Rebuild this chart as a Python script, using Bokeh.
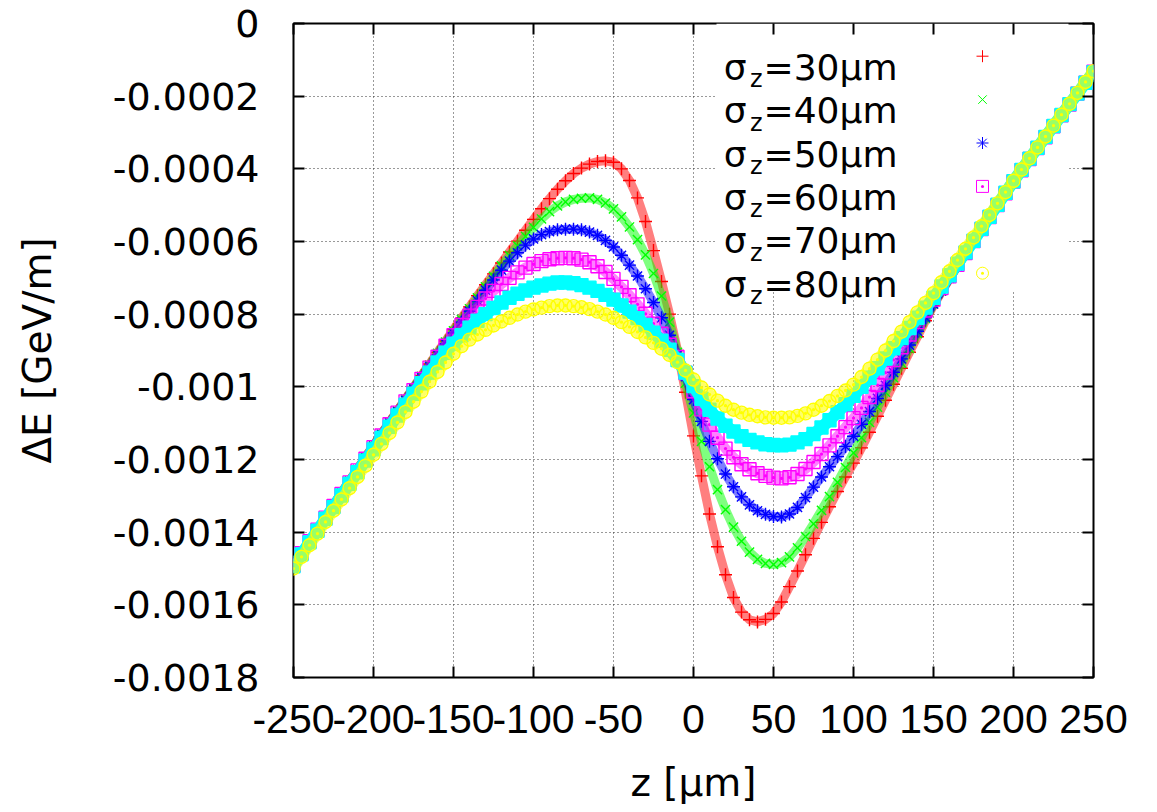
from bokeh.plotting import figure
from bokeh.models import Range1d, FixedTicker, LinearAxis, BoxAnnotation, CustomJSTickFormatter
from bokeh.core.properties import value
from bokeh.embed import file_html
from bokeh.resources import INLINE

# ---------------- data ----------------
z = [-250, -245, -240, -235, -230, -225, -220, -215, -210, -205,
     -200, -195, -190, -185, -180, -175, -170, -165, -160, -155,
     -150, -145, -140, -135, -130, -125, -120, -115, -110, -105,
     -100, -95, -90, -85, -80, -75, -70, -65, -60, -55,
     -50, -45, -40, -35, -30, -25, -20, -15, -10, -5,
     0, 5, 10, 15, 20, 25, 30, 35, 40, 45,
     50, 55, 60, 65, 70, 75, 80, 85, 90, 95,
     100, 105, 110, 115, 120, 125, 130, 135, 140, 145,
     150, 155, 160, 165, 170, 175, 180, 185, 190, 195,
     200, 205, 210, 215, 220, 225, 230, 235, 240, 245,
     250]

sigma30 = [-0.001490, -0.001456, -0.001423, -0.001390, -0.001357, -0.001324, -0.001291, -0.001258, -0.001226, -0.001193,
           -0.001161, -0.001129, -0.001097, -0.001065, -0.001033, -0.001001, -0.000969, -0.000937, -0.000905, -0.000874,
           -0.000842, -0.000811, -0.000780, -0.000749, -0.000719, -0.000689, -0.000659, -0.000629, -0.000599, -0.000569,
           -0.000539, -0.000510, -0.000482, -0.000456, -0.000433, -0.000413, -0.000398, -0.000387, -0.000380, -0.000378,
           -0.000382, -0.000400, -0.000432, -0.000480, -0.000545, -0.000625, -0.000710, -0.000800, -0.000900, -0.001015,
           -0.001135, -0.001245, -0.001350, -0.001440, -0.001517, -0.001580, -0.001620, -0.001641, -0.001647, -0.001640,
           -0.001624, -0.001592, -0.001550, -0.001507, -0.001462, -0.001417, -0.001373, -0.001330, -0.001288, -0.001248,
           -0.001210, -0.001168, -0.001125, -0.001081, -0.001037, -0.000993, -0.000949, -0.000905, -0.000862, -0.000818,
           -0.000776, -0.000739, -0.000703, -0.000668, -0.000634, -0.000600, -0.000567, -0.000534, -0.000501, -0.000468,
           -0.000436, -0.000405, -0.000374, -0.000344, -0.000314, -0.000284, -0.000254, -0.000224, -0.000194, -0.000164,
           -0.000134]

sigma40 = [-0.001490, -0.001457, -0.001424, -0.001391, -0.001358, -0.001325, -0.001292, -0.001259, -0.001227, -0.001194,
           -0.001162, -0.001130, -0.001098, -0.001066, -0.001034, -0.001003, -0.000971, -0.000940, -0.000908, -0.000877,
           -0.000846, -0.000815, -0.000785, -0.000755, -0.000725, -0.000696, -0.000667, -0.000639, -0.000612, -0.000586,
           -0.000561, -0.000538, -0.000518, -0.000502, -0.000491, -0.000484, -0.000481, -0.000480, -0.000484, -0.000494,
           -0.000510, -0.000532, -0.000560, -0.000595, -0.000637, -0.000688, -0.000750, -0.000822, -0.000905, -0.000990,
           -0.001072, -0.001150, -0.001220, -0.001283, -0.001338, -0.001386, -0.001425, -0.001455, -0.001475, -0.001486,
           -0.001489, -0.001484, -0.001468, -0.001443, -0.001412, -0.001377, -0.001340, -0.001302, -0.001263, -0.001222,
           -0.001182, -0.001140, -0.001098, -0.001056, -0.001015, -0.000975, -0.000935, -0.000894, -0.000853, -0.000812,
           -0.000772, -0.000736, -0.000701, -0.000667, -0.000633, -0.000599, -0.000566, -0.000533, -0.000500, -0.000467,
           -0.000435, -0.000404, -0.000373, -0.000343, -0.000313, -0.000283, -0.000253, -0.000223, -0.000193, -0.000163,
           -0.000133]

sigma50 = [-0.001490, -0.001457, -0.001424, -0.001391, -0.001359, -0.001326, -0.001294, -0.001261, -0.001229, -0.001196,
           -0.001164, -0.001132, -0.001100, -0.001069, -0.001037, -0.001006, -0.000975, -0.000944, -0.000913, -0.000882,
           -0.000852, -0.000822, -0.000792, -0.000763, -0.000734, -0.000706, -0.000679, -0.000654, -0.000631, -0.000610,
           -0.000593, -0.000581, -0.000573, -0.000568, -0.000566, -0.000566, -0.000568, -0.000574, -0.000583, -0.000597,
           -0.000615, -0.000638, -0.000665, -0.000695, -0.000730, -0.000768, -0.000810, -0.000858, -0.000912, -0.000972,
           -0.001035, -0.001095, -0.001150, -0.001198, -0.001240, -0.001275, -0.001303, -0.001325, -0.001341, -0.001351,
           -0.001357, -0.001358, -0.001350, -0.001332, -0.001305, -0.001276, -0.001248, -0.001220, -0.001192, -0.001164,
           -0.001136, -0.001103, -0.001068, -0.001032, -0.000996, -0.000960, -0.000923, -0.000885, -0.000847, -0.000809,
           -0.000772, -0.000736, -0.000701, -0.000667, -0.000633, -0.000599, -0.000566, -0.000533, -0.000500, -0.000467,
           -0.000435, -0.000404, -0.000373, -0.000343, -0.000313, -0.000283, -0.000253, -0.000223, -0.000193, -0.000163,
           -0.000133]

sigma60 = [-0.001491, -0.001458, -0.001425, -0.001393, -0.001360, -0.001328, -0.001295, -0.001263, -0.001230, -0.001198,
           -0.001166, -0.001134, -0.001103, -0.001071, -0.001040, -0.001009, -0.000978, -0.000947, -0.000917, -0.000887,
           -0.000858, -0.000830, -0.000804, -0.000780, -0.000757, -0.000736, -0.000717, -0.000700, -0.000685, -0.000672,
           -0.000662, -0.000654, -0.000649, -0.000646, -0.000645, -0.000646, -0.000650, -0.000657, -0.000668, -0.000684,
           -0.000703, -0.000725, -0.000748, -0.000773, -0.000799, -0.000826, -0.000854, -0.000884, -0.000918, -0.000962,
           -0.001012, -0.001062, -0.001104, -0.001140, -0.001170, -0.001194, -0.001213, -0.001227, -0.001238, -0.001245,
           -0.001250, -0.001252, -0.001249, -0.001240, -0.001226, -0.001207, -0.001185, -0.001161, -0.001136, -0.001111,
           -0.001086, -0.001058, -0.001028, -0.000995, -0.000961, -0.000926, -0.000891, -0.000856, -0.000822, -0.000790,
           -0.000760, -0.000728, -0.000696, -0.000664, -0.000632, -0.000599, -0.000566, -0.000533, -0.000500, -0.000467,
           -0.000435, -0.000404, -0.000373, -0.000343, -0.000313, -0.000283, -0.000253, -0.000223, -0.000193, -0.000163,
           -0.000133]

sigma70 = [-0.001494, -0.001461, -0.001428, -0.001396, -0.001363, -0.001331, -0.001299, -0.001267, -0.001235, -0.001203,
           -0.001172, -0.001141, -0.001110, -0.001079, -0.001049, -0.001019, -0.000990, -0.000961, -0.000933, -0.000906,
           -0.000881, -0.000858, -0.000837, -0.000818, -0.000800, -0.000783, -0.000768, -0.000755, -0.000744, -0.000735,
           -0.000727, -0.000721, -0.000716, -0.000713, -0.000713, -0.000715, -0.000720, -0.000727, -0.000736, -0.000747,
           -0.000760, -0.000776, -0.000793, -0.000811, -0.000830, -0.000851, -0.000873, -0.000898, -0.000926, -0.000961,
           -0.000998, -0.001033, -0.001063, -0.001087, -0.001107, -0.001123, -0.001136, -0.001146, -0.001153, -0.001158,
           -0.001160, -0.001161, -0.001159, -0.001153, -0.001144, -0.001130, -0.001112, -0.001092, -0.001070, -0.001048,
           -0.001025, -0.001000, -0.000975, -0.000949, -0.000922, -0.000894, -0.000866, -0.000838, -0.000810, -0.000782,
           -0.000755, -0.000724, -0.000693, -0.000661, -0.000630, -0.000598, -0.000565, -0.000532, -0.000499, -0.000466,
           -0.000434, -0.000403, -0.000372, -0.000342, -0.000312, -0.000282, -0.000252, -0.000222, -0.000193, -0.000163,
           -0.000134]

sigma80 = [-0.001500, -0.001468, -0.001436, -0.001404, -0.001372, -0.001341, -0.001310, -0.001279, -0.001248, -0.001217,
           -0.001187, -0.001157, -0.001127, -0.001098, -0.001069, -0.001041, -0.001013, -0.000986, -0.000959, -0.000933,
           -0.000909, -0.000888, -0.000870, -0.000856, -0.000843, -0.000831, -0.000820, -0.000810, -0.000801, -0.000793,
           -0.000787, -0.000782, -0.000778, -0.000776, -0.000776, -0.000778, -0.000781, -0.000786, -0.000793, -0.000801,
           -0.000810, -0.000822, -0.000835, -0.000849, -0.000864, -0.000879, -0.000895, -0.000912, -0.000932, -0.000955,
           -0.000980, -0.001002, -0.001021, -0.001038, -0.001052, -0.001063, -0.001071, -0.001077, -0.001081, -0.001084,
           -0.001085, -0.001085, -0.001084, -0.001080, -0.001073, -0.001063, -0.001052, -0.001039, -0.001025, -0.001010,
           -0.000994, -0.000973, -0.000950, -0.000925, -0.000900, -0.000874, -0.000848, -0.000822, -0.000795, -0.000769,
           -0.000742, -0.000712, -0.000682, -0.000651, -0.000620, -0.000589, -0.000558, -0.000527, -0.000495, -0.000464,
           -0.000433, -0.000402, -0.000371, -0.000341, -0.000311, -0.000281, -0.000251, -0.000221, -0.000191, -0.000161,
           -0.000131]

series_values = [sigma30, sigma40, sigma50, sigma60, sigma70, sigma80]
series_names = ["=30µm", "=40µm", "=50µm", "=60µm", "=70µm", "=80µm"]

x_ticks = [-250, -200, -150, -100, -50, 0, 50, 100, 150, 200, 250]
x_tick_labels = ["-250", "-200", "-150", "-100", "-50", "0", "50", "100", "150", "200", "250"]
y_ticks = [0, -0.0002, -0.0004, -0.0006, -0.0008, -0.001, -0.0012, -0.0014, -0.0016, -0.0018]
y_tick_labels = ["0", "-0.0002", "-0.0004", "-0.0006", "-0.0008", "-0.001",
                 "-0.0012", "-0.0014", "-0.0016", "-0.0018"]

# ---------------- styles ----------------
colors = ["#ff0000", "#00ff00", "#0000ff", "#ff00ff", "#00ffff", "#ffff00"]
markers = ["cross", "x", "asterisk", "square_dot", "square", "circle_dot"]
filled = [False, False, False, False, True, False]
band_alpha = [0.5, 0.5, 0.5, 0.5, 1.0, 0.6]
band_width = [9, 9, 9, 10, 12, 11]
legend_has_marker = [True, True, True, True, False, True]

W, H = 1157, 812
FL, FT, FR, FB = 293, 23, 1093, 677   # frame in figure pixels

p = figure(width=W, height=H, output_backend="svg", toolbar_location=None,
           x_range=Range1d(-250, 250), y_range=Range1d(-0.0018, 0),
           min_border_left=FL, min_border_top=FT,
           min_border_right=W - FR, min_border_bottom=H - FB,
           x_axis_label="z [µm]", y_axis_label="ΔE [GeV/m]")
p.background_fill_color = "white"
p.border_fill_color = "white"
p.outline_line_color = "black"
p.outline_line_width = 2


def fmt(ticks, labels):
    return CustomJSTickFormatter(args=dict(t=ticks, l=labels), code="""
        let best = 0, d = Infinity;
        for (let i = 0; i < t.length; i++) {
            const e = Math.abs(t[i] - tick);
            if (e < d) { d = e; best = i; }
        }
        return l[best];""")


xt = FixedTicker(ticks=x_ticks)
yt = FixedTicker(ticks=y_ticks)
p.xaxis.ticker = xt
p.yaxis.ticker = yt
p.xgrid.ticker = xt
p.ygrid.ticker = yt
p.xaxis.formatter = fmt(x_ticks, x_tick_labels)
p.yaxis.formatter = fmt(y_ticks, y_tick_labels)

for ax in (p.xaxis[0], p.yaxis[0]):
    ax.major_tick_in = 11
    ax.major_tick_out = 0
    ax.major_tick_line_width = 2
    ax.minor_tick_line_color = None
    ax.axis_line_color = None
    ax.major_label_text_color = "black"
    ax.axis_label_text_color = "black"
    ax.axis_label_text_font = "DejaVu Sans"
    ax.axis_label_text_font_style = "normal"

p.xaxis.major_label_text_font = "Liberation Sans"
p.xaxis.major_label_text_font_size = "41px"
p.xaxis.major_label_standoff = 27
p.xaxis.axis_label_text_font_size = "39px"
p.xaxis.axis_label_standoff = 24

p.yaxis.major_label_text_font = "DejaVu Sans"
p.yaxis.major_label_text_font_size = "38px"
p.yaxis.major_label_standoff = 34
p.yaxis.axis_label_text_font_size = "39px"
p.yaxis.axis_label_standoff = 50

# mirror ticks on top and right
for side, tk in (("above", xt), ("right", yt)):
    ax = LinearAxis(ticker=tk, formatter=CustomJSTickFormatter(code="return ''"),
                    major_tick_in=11, major_tick_out=0, major_tick_line_width=2,
                    minor_tick_line_color=None, axis_line_color=None,
                    major_label_text_font_size="0px", major_label_standoff=0)
    p.add_layout(ax, side)

for g in (p.xgrid[0], p.ygrid[0]):
    g.grid_line_color = "#333333"
    g.grid_line_width = 1
    g.grid_line_dash = "1 3"


# pixel -> data helpers for the key layout (frame spans 293..1093 x 23..677)
def zx(px):
    return -250 + (px - 293.0) / 800.0 * 500.0


def vy(py):
    return -(py - 23.0) / 654.0 * 0.0018


# opaque key area that hides the grid (as in gnuplot's opaque key)
p.add_layout(BoxAnnotation(left=zx(716), right=zx(1068), top=0, bottom=vy(291),
                           fill_color="white", fill_alpha=1.0, line_color=None,
                           level="underlay"))

# data: each sampled curve is a dense band of points in the original,
# drawn here as a soft band under the point markers
for vals, mk, col, fl, ba, bw in zip(series_values, markers, colors, filled,
                                     band_alpha, band_width):
    p.line(z, vals, line_color=col, line_alpha=ba, line_width=bw,
           line_join="round", line_cap="round")
    p.scatter(z, vals, marker=mk, size=13, line_color=col, line_width=1.4,
              fill_color=col if fl else None)

# key
base_py, step_py = 66.7, 43.4
rows = list(range(len(series_names)))
p.text(x=[zx(746)] * len(rows), y=[vy(base_py + i * step_py) for i in rows],
       text=["σ"] * len(rows), text_font=value("DejaVu Sans"), text_font_size=value("36px"),
       text_align="right", text_baseline="alphabetic", text_color="black")
p.text(x=[zx(762)] * len(rows), y=[vy(base_py + 12 + i * step_py) for i in rows],
       text=["z"] * len(rows), text_font=value("DejaVu Sans"), text_font_size=value("24px"),
       text_align="right", text_baseline="alphabetic", text_color="black")
p.text(x=[zx(897)] * len(rows), y=[vy(base_py + i * step_py) for i in rows],
       text=series_names, text_font=value("DejaVu Sans"), text_font_size=value("36px"),
       text_align="right", text_baseline="alphabetic", text_color="black")
for i, (mk, col, fl, has) in enumerate(zip(markers, colors, filled, legend_has_marker)):
    if has:
        p.scatter([zx(982)], [vy(base_py - 11 + i * step_py)], marker=mk, size=12,
                  line_color=col, line_width=1, fill_color=col if fl else None)

open("out.html", "w").write(file_html(p, INLINE))
